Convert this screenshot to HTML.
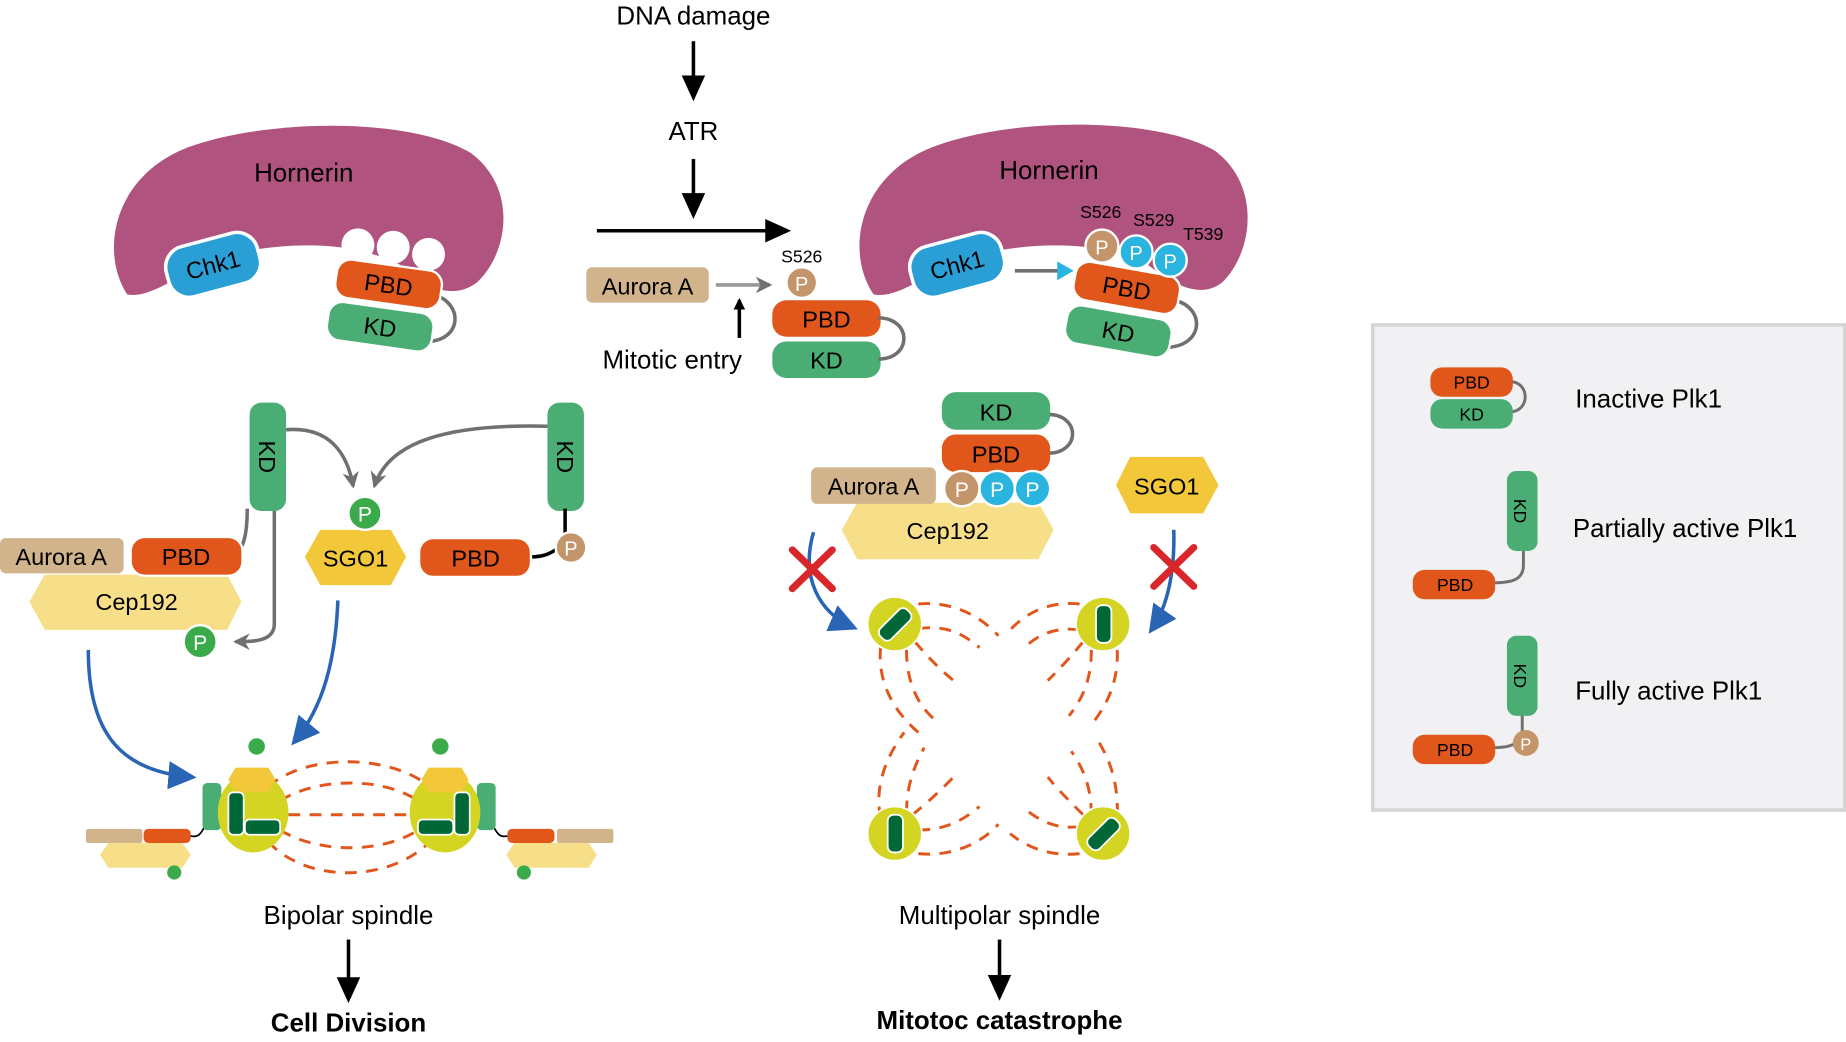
<!DOCTYPE html>
<html><head><meta charset="utf-8"><style>
html,body{margin:0;padding:0;background:#fff}
svg{display:block}
text{font-family:"Liberation Sans",Arial,sans-serif}
</style></head><body>
<svg width="1846" height="1042" viewBox="0 0 1568 885" preserveAspectRatio="none" xmlns="http://www.w3.org/2000/svg">
<defs>
<marker id="ab" markerWidth="10" markerHeight="10" refX="8" refY="5" orient="auto" markerUnits="userSpaceOnUse"><path d="M0,0 L10,5 L0,10 z" fill="#000"/></marker>
<marker id="ag" markerWidth="16" markerHeight="16" refX="12" refY="8" orient="auto" markerUnits="userSpaceOnUse"><path d="M0,1 L14,8 L0,15 L4,8 z" fill="#707070"/></marker>
<marker id="abl" markerWidth="26" markerHeight="26" refX="20" refY="12" orient="auto" markerUnits="userSpaceOnUse"><path d="M0,0 L24,12 L0,24 z" fill="#2a65b5"/></marker>
<marker id="abk" markerWidth="24" markerHeight="24" refX="18" refY="10" orient="auto" markerUnits="userSpaceOnUse"><path d="M0,0 L22,10 L0,20 z" fill="#000"/></marker>
</defs>
<g font-size="22" fill="#000">
<!-- center top -->
<text x="589" y="21" text-anchor="middle">DNA damage</text>
<line x1="589" y1="35" x2="589" y2="82" stroke="#000" stroke-width="3" marker-end="url(#abk)"/>
<text x="589" y="119" text-anchor="middle">ATR</text>
<line x1="589" y1="135" x2="589" y2="182" stroke="#000" stroke-width="3" marker-end="url(#abk)"/>
<line x1="507" y1="196" x2="668" y2="196" stroke="#000" stroke-width="3" marker-end="url(#abk)"/>
<rect x="498" y="227" width="104" height="30" rx="5" fill="#d2b48c"/>
<text x="550" y="250" text-anchor="middle" font-size="20">Aurora A</text>
<line x1="608" y1="242" x2="654" y2="242" stroke="#999" stroke-width="3" marker-end="url(#ag)"/>
<text x="681" y="223" text-anchor="middle" font-size="15">S526</text>
<rect x="656" y="255" width="92" height="31" rx="12" fill="#e0561b"/>
<text x="702" y="278" text-anchor="middle" font-size="20">PBD</text>
<rect x="656" y="290" width="92" height="31" rx="12" fill="#4aae74"/>
<text x="702" y="313" text-anchor="middle" font-size="20">KD</text>
<path d="M746,270 C775,270 775,305 746,305" fill="none" stroke="#707070" stroke-width="3"/>
<circle cx="681" cy="240" r="13" fill="#c4956a" stroke="#fff" stroke-width="2"/>
<text x="681" y="247" text-anchor="middle" font-size="17" fill="#fff">P</text>
<line x1="628" y1="287" x2="628" y2="255" stroke="#000" stroke-width="3" marker-end="url(#ab)"/>
<text x="571" y="313" text-anchor="middle">Mitotic entry</text>

<!-- left hornerin -->
<path d="M108,250 C85,215 95,150 160,125 C230,100 350,100 400,130 C440,160 432,215 405,240 C385,255 360,245 340,225 C300,205 250,205 200,215 C160,225 130,255 108,250 z" fill="#b0537f"/>
<text x="258" y="154" text-anchor="middle">Hornerin</text>
<circle cx="304" cy="208" r="14" fill="#fff"/><circle cx="334" cy="210" r="14" fill="#fff"/><circle cx="364" cy="216" r="14" fill="#fff"/>
<g transform="rotate(-15 181 225)"><rect x="141" y="203" width="80" height="44" rx="18" fill="#2a9fd6" stroke="#fff" stroke-width="3"/><text x="181" y="232" text-anchor="middle" font-size="20">Chk1</text></g>
<path d="M368,250 C395,258 392,290 362,290" fill="none" stroke="#707070" stroke-width="3"/>
<g transform="rotate(8 330 242)"><rect x="285" y="225" width="90" height="33" rx="12" fill="#e0561b" stroke="#fff" stroke-width="2"/><text x="330" y="249" text-anchor="middle" font-size="20">PBD</text></g>
<g transform="rotate(8 323 277)"><rect x="278" y="261" width="90" height="33" rx="12" fill="#4aae74" stroke="#fff" stroke-width="2"/><text x="323" y="285" text-anchor="middle" font-size="20">KD</text></g>

<!-- right hornerin -->
<path d="M742,250 C718,215 728,150 792,125 C862,98 985,100 1032,128 C1072,158 1064,215 1038,240 C1018,255 995,240 975,225 C935,205 885,205 835,215 C795,225 765,255 742,250 z" fill="#b0537f"/>
<text x="891" y="152" text-anchor="middle">Hornerin</text>
<g transform="rotate(-15 813 225)"><rect x="773" y="203" width="80" height="44" rx="18" fill="#2a9fd6" stroke="#fff" stroke-width="3"/><text x="813" y="232" text-anchor="middle" font-size="20">Chk1</text></g>
<line x1="862" y1="230" x2="906" y2="230" stroke="#707070" stroke-width="3"/>
<path d="M898,222 L912,230 L898,238 z" fill="#2ab4e0"/>
<path d="M998,255 C1025,262 1022,295 990,295" fill="none" stroke="#707070" stroke-width="3"/>
<g transform="rotate(10 957 245)"><rect x="912" y="228" width="90" height="33" rx="12" fill="#e0561b" stroke="#fff" stroke-width="2"/><text x="957" y="252" text-anchor="middle" font-size="20">PBD</text></g>
<g transform="rotate(10 950 281)"><rect x="905" y="265" width="90" height="33" rx="12" fill="#4aae74" stroke="#fff" stroke-width="2"/><text x="950" y="289" text-anchor="middle" font-size="20">KD</text></g>
<circle cx="936" cy="209" r="14" fill="#c4956a" stroke="#fff" stroke-width="2"/><text x="936" y="216" text-anchor="middle" font-size="17" fill="#fff">P</text>
<circle cx="965" cy="214" r="14" fill="#2ab4e0" stroke="#fff" stroke-width="2"/><text x="965" y="221" text-anchor="middle" font-size="17" fill="#fff">P</text>
<circle cx="994" cy="221" r="14" fill="#2ab4e0" stroke="#fff" stroke-width="2"/><text x="994" y="228" text-anchor="middle" font-size="17" fill="#fff">P</text>
<text x="935" y="185" text-anchor="middle" font-size="15">S526</text>
<text x="980" y="192" text-anchor="middle" font-size="15">S529</text>
<text x="1022" y="204" text-anchor="middle" font-size="15">T539</text>

<!-- left lower -->
<path d="M233,432 L233,530 C233,545 215,545 200,545" fill="none" stroke="#707070" stroke-width="3" marker-end="url(#ag)"/>
<path d="M210,432 C210,460 205,470 195,472" fill="none" stroke="#707070" stroke-width="3"/>
<path d="M243,365 C280,362 295,385 300,413" fill="none" stroke="#707070" stroke-width="3" marker-end="url(#ag)"/>
<path d="M465,362 C380,360 330,375 318,413" fill="none" stroke="#707070" stroke-width="3" marker-end="url(#ag)"/>
<rect x="212" y="342" width="31" height="92" rx="10" fill="#4aae74"/>
<text transform="translate(220 388) rotate(90)" text-anchor="middle" font-size="20">KD</text>
<rect x="465" y="342" width="31" height="92" rx="10" fill="#4aae74"/>
<text transform="translate(473 388) rotate(90)" text-anchor="middle" font-size="20">KD</text>
<path d="M25,511 L38,488 L193,488 L205,511 L193,535 L38,535 z" fill="#f7df8a"/>
<text x="116" y="518" text-anchor="middle" font-size="20">Cep192</text>
<rect x="0" y="457" width="105" height="30" rx="5" fill="#d2b48c"/>
<text x="52" y="480" text-anchor="middle" font-size="20">Aurora A</text>
<rect x="111" y="456" width="95" height="33" rx="12" fill="#e0561b" stroke="#fff" stroke-width="2"/>
<text x="158" y="480" text-anchor="middle" font-size="20">PBD</text>
<circle cx="170" cy="545" r="14" fill="#3aaa4a" stroke="#fff" stroke-width="2"/><text x="170" y="552" text-anchor="middle" font-size="18" fill="#fff">P</text>
<path d="M259,473 L272,450 L332,450 L345,473 L332,497 L272,497 z" fill="#f2c83a"/>
<text x="302" y="481" text-anchor="middle" font-size="20">SGO1</text>
<circle cx="310" cy="436" r="14" fill="#3aaa4a" stroke="#fff" stroke-width="2"/><text x="310" y="443" text-anchor="middle" font-size="18" fill="#fff">P</text>
<path d="M480,432 L480,460 M450,473 C462,473 468,470 475,465" fill="none" stroke="#000" stroke-width="3"/>
<rect x="356" y="457" width="95" height="33" rx="12" fill="#e0561b" stroke="#fff" stroke-width="2"/>
<text x="404" y="481" text-anchor="middle" font-size="20">PBD</text>
<circle cx="485" cy="465" r="13" fill="#c4956a" stroke="#fff" stroke-width="2"/><text x="485" y="472" text-anchor="middle" font-size="17" fill="#fff">P</text>
<path d="M75,552 C75,620 100,655 163,660" fill="none" stroke="#2a65b5" stroke-width="3" marker-end="url(#abl)"/>
<path d="M287,510 C285,560 275,600 250,630" fill="none" stroke="#2a65b5" stroke-width="3" marker-end="url(#abl)"/>

<!-- bipolar spindle -->
<g fill="none" stroke="#e0561b" stroke-width="2.5" stroke-dasharray="10,8">
<path d="M228,668 C260,640 330,640 365,668"/>
<path d="M238,680 C270,660 325,660 355,680"/>
<line x1="245" y1="692" x2="350" y2="692"/>
<path d="M238,705 C270,725 325,725 355,705"/>
<path d="M228,715 C260,750 330,750 365,715"/>
</g>
<rect x="73" y="704" width="48" height="12" rx="2" fill="#d2b48c"/>
<rect x="122" y="704" width="40" height="12" rx="4" fill="#e0561b"/>
<path d="M85,726 L92,716 L155,716 L162,726 L155,737 L92,737 z" fill="#f7df8a"/>
<circle cx="148" cy="741" r="6" fill="#3aaa4a"/>
<path d="M162,710 C170,712 172,705 175,700" fill="none" stroke="#000" stroke-width="1.5"/>
<rect x="172" y="665" width="16" height="40" rx="4" fill="#4aae74"/>
<ellipse cx="215" cy="690" rx="30" ry="34" fill="#d4d422"/>
<path d="M194,662 L200,652 L228,652 L234,662 L228,673 L200,673 z" fill="#f2c83a"/>
<circle cx="218" cy="634" r="7" fill="#3aaa4a"/>
<rect x="194" y="673" width="13" height="36" rx="4" fill="#006837" stroke="#fff" stroke-width="1.5"/>
<rect x="208" y="696" width="30" height="13" rx="4" fill="#006837" stroke="#fff" stroke-width="1.5"/>

<rect x="473" y="704" width="48" height="12" rx="2" fill="#d2b48c"/>
<rect x="431" y="704" width="40" height="12" rx="4" fill="#e0561b"/>
<path d="M430,726 L437,716 L500,716 L507,726 L500,737 L437,737 z" fill="#f7df8a"/>
<circle cx="445" cy="741" r="6" fill="#3aaa4a"/>
<path d="M431,710 C423,712 421,705 418,700" fill="none" stroke="#000" stroke-width="1.5"/>
<rect x="405" y="665" width="16" height="40" rx="4" fill="#4aae74"/>
<ellipse cx="378" cy="690" rx="30" ry="34" fill="#d4d422"/>
<path d="M358,662 L364,652 L392,652 L398,662 L392,673 L364,673 z" fill="#f2c83a"/>
<circle cx="374" cy="634" r="7" fill="#3aaa4a"/>
<rect x="386" y="673" width="13" height="36" rx="4" fill="#006837" stroke="#fff" stroke-width="1.5"/>
<rect x="355" y="696" width="30" height="13" rx="4" fill="#006837" stroke="#fff" stroke-width="1.5"/>

<text x="296" y="785" text-anchor="middle">Bipolar spindle</text>
<line x1="296" y1="798" x2="296" y2="848" stroke="#000" stroke-width="3" marker-end="url(#abk)"/>
<text x="296" y="876" text-anchor="middle" font-weight="bold">Cell Division</text>

<!-- multipolar -->
<path d="M890,352 C918,352 918,385 890,385" fill="none" stroke="#707070" stroke-width="3"/>
<rect x="800" y="333" width="92" height="32" rx="12" fill="#4aae74"/>
<text x="846" y="357" text-anchor="middle" font-size="20">KD</text>
<rect x="800" y="369" width="92" height="32" rx="12" fill="#e0561b"/>
<text x="846" y="393" text-anchor="middle" font-size="20">PBD</text>
<path d="M715,450 L728,427 L882,427 L895,450 L882,475 L728,475 z" fill="#f7df8a"/>
<text x="805" y="458" text-anchor="middle" font-size="20">Cep192</text>
<rect x="689" y="397" width="106" height="31" rx="5" fill="#d2b48c"/>
<text x="742" y="420" text-anchor="middle" font-size="20">Aurora A</text>
<circle cx="817" cy="415" r="15" fill="#c4956a" stroke="#fff" stroke-width="2"/><text x="817" y="422" text-anchor="middle" font-size="18" fill="#fff">P</text>
<circle cx="847" cy="415" r="15" fill="#2ab4e0" stroke="#fff" stroke-width="2"/><text x="847" y="422" text-anchor="middle" font-size="18" fill="#fff">P</text>
<circle cx="877" cy="415" r="15" fill="#2ab4e0" stroke="#fff" stroke-width="2"/><text x="877" y="422" text-anchor="middle" font-size="18" fill="#fff">P</text>
<path d="M948,412 L960,388 L1022,388 L1035,412 L1022,436 L960,436 z" fill="#f2c83a"/>
<text x="991" y="420" text-anchor="middle" font-size="20">SGO1</text>
<path d="M691,452 C680,490 695,520 725,533" fill="none" stroke="#2a65b5" stroke-width="3" marker-end="url(#abl)"/>
<path d="M997,450 C998,485 992,515 978,535" fill="none" stroke="#2a65b5" stroke-width="3" marker-end="url(#abl)"/>
<g stroke="#d9262b" stroke-width="6" stroke-linecap="round">
<line x1="673" y1="467" x2="707" y2="500"/><line x1="707" y1="467" x2="673" y2="500"/>
<line x1="980" y1="465" x2="1014" y2="498"/><line x1="1014" y1="465" x2="980" y2="498"/>
</g>
<g fill="none" stroke="#e0561b" stroke-width="2.5" stroke-dasharray="10,8">
<path d="M780,513 C810,510 835,525 848,540"/>
<path d="M780,534 C805,530 820,540 832,550"/>
<path d="M777,545 C790,560 800,570 810,578"/>
<path d="M748,550 C745,580 760,605 780,622"/>
<path d="M770,552 C770,580 780,600 795,612"/>
<path d="M917,513 C890,510 870,522 858,535"/>
<path d="M917,535 C895,532 880,540 868,552"/>
<path d="M920,545 C908,560 898,570 890,578"/>
<path d="M949,552 C950,580 940,600 925,618"/>
<path d="M927,552 C927,580 918,595 908,608"/>
<path d="M780,725 C810,728 835,715 848,700"/>
<path d="M780,705 C805,705 820,695 832,685"/>
<path d="M775,692 C790,680 800,670 810,660"/>
<path d="M748,695 C742,665 755,640 768,622"/>
<path d="M770,690 C770,665 778,648 785,635"/>
<path d="M917,725 C890,728 870,718 858,708"/>
<path d="M917,702 C895,705 880,695 868,685"/>
<path d="M920,692 C908,680 898,670 890,660"/>
<path d="M949,692 C950,660 940,640 930,625"/>
<path d="M927,692 C927,665 918,650 910,638"/>
</g>
<circle cx="760" cy="530" r="23" fill="#d4d422" stroke="#fff" stroke-width="1.5"/>
<rect x="754" y="514" width="13" height="32" rx="5" fill="#006837" stroke="#fff" stroke-width="1.5" transform="rotate(45 760 530)"/>
<circle cx="937" cy="530" r="23" fill="#d4d422" stroke="#fff" stroke-width="1.5"/>
<rect x="931" y="514" width="13" height="32" rx="5" fill="#006837" stroke="#fff" stroke-width="1.5"/>
<circle cx="760" cy="708" r="23" fill="#d4d422" stroke="#fff" stroke-width="1.5"/>
<rect x="754" y="692" width="13" height="32" rx="5" fill="#006837" stroke="#fff" stroke-width="1.5"/>
<circle cx="937" cy="708" r="23" fill="#d4d422" stroke="#fff" stroke-width="1.5"/>
<rect x="931" y="692" width="13" height="32" rx="5" fill="#006837" stroke="#fff" stroke-width="1.5" transform="rotate(45 937 708)"/>
<text x="849" y="785" text-anchor="middle">Multipolar spindle</text>
<line x1="849" y1="798" x2="849" y2="846" stroke="#000" stroke-width="3" marker-end="url(#abk)"/>
<text x="849" y="874" text-anchor="middle" font-weight="bold">Mitotoc catastrophe</text>

<!-- legend -->
<rect x="1166" y="276" width="401" height="412" fill="#f1f1f3" stroke="#d5d5d5" stroke-width="3"/>
<path d="M1282,324 C1300,324 1300,350 1282,350" fill="none" stroke="#707070" stroke-width="2.5"/>
<rect x="1215" y="312" width="70" height="25" rx="10" fill="#e0561b"/>
<text x="1250" y="330" text-anchor="middle" font-size="15">PBD</text>
<rect x="1215" y="339" width="70" height="25" rx="10" fill="#4aae74"/>
<text x="1250" y="357" text-anchor="middle" font-size="15">KD</text>
<text x="1338" y="346">Inactive Plk1</text>
<path d="M1294,465 L1294,480 C1294,492 1285,495 1268,495" fill="none" stroke="#707070" stroke-width="2.5"/>
<rect x="1280" y="400" width="26" height="68" rx="8" fill="#4aae74"/>
<text transform="translate(1286 434) rotate(90)" text-anchor="middle" font-size="15">KD</text>
<rect x="1200" y="484" width="70" height="25" rx="10" fill="#e0561b"/>
<text x="1236" y="502" text-anchor="middle" font-size="15">PBD</text>
<text x="1336" y="456">Partially active Plk1</text>
<path d="M1293,605 L1293,625 M1268,635 C1280,635 1285,633 1290,630" fill="none" stroke="#707070" stroke-width="2.5"/>
<rect x="1280" y="540" width="26" height="68" rx="8" fill="#4aae74"/>
<text transform="translate(1286 574) rotate(90)" text-anchor="middle" font-size="15">KD</text>
<rect x="1200" y="624" width="70" height="25" rx="10" fill="#e0561b"/>
<text x="1236" y="642" text-anchor="middle" font-size="15">PBD</text>
<circle cx="1296" cy="631" r="11" fill="#c4956a"/><text x="1296" y="637" text-anchor="middle" font-size="14" fill="#fff">P</text>
<text x="1338" y="594">Fully active Plk1</text>
</g>
</svg>
</body></html>
